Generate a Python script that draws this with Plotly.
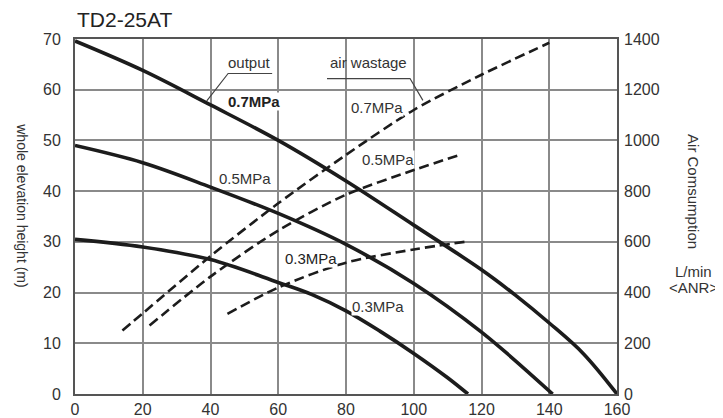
import plotly.graph_objects as go

# Output (whole elevation height, m) vs flow
out07_x = [0, 20, 40, 60, 80, 100, 120, 130, 140, 150, 160]
out07_y = [69.6, 63.8, 57.0, 50.0, 42.0, 33.3, 24.5, 19.5, 14.0, 8.0, 0]
out05_x = [0, 20, 40, 60, 80, 100, 120, 141]
out05_y = [49.0, 45.6, 40.8, 35.6, 29.5, 21.8, 12.2, 0]
out03_x = [0, 20, 40, 60, 70, 80, 90, 100, 110, 116]
out03_y = [30.5, 29.0, 26.5, 22.0, 19.6, 16.4, 12.4, 8.0, 3.2, 0]

# Air wastage (L/min ANR)
air07_x = [14, 20, 40, 60, 80, 100, 120, 140]
air07_y = [250, 318, 544, 752, 943, 1120, 1259, 1385]
air05_x = [22, 40, 60, 80, 100, 114]
air05_y = [270, 463, 645, 786, 883, 945]
air03_x = [45, 60, 80, 100, 116]
air03_y = [316, 420, 518, 570, 602]

x_ticks = [0, 20, 40, 60, 80, 100, 120, 140, 160]
y_ticks = [0, 10, 20, 30, 40, 50, 60, 70]
y2_ticks = [0, 200, 400, 600, 800, 1000, 1200, 1400]

FONT = "Liberation Sans, Arial, sans-serif"
INK = "#1c1c1c"
TXT = "#333333"

fig = go.Figure()
for xs, ys in [(out07_x, out07_y), (out05_x, out05_y), (out03_x, out03_y)]:
    fig.add_trace(go.Scatter(x=xs, y=ys, mode="lines",
                             line=dict(color=INK, width=3.6, shape="spline", smoothing=1.0),
                             showlegend=False, hoverinfo="skip"))
for xs, ys in [(air07_x, air07_y), (air05_x, air05_y), (air03_x, air03_y)]:
    fig.add_trace(go.Scatter(x=xs, y=ys, mode="lines", yaxis="y2",
                             line=dict(color=INK, width=2.6, dash="10px,5px", shape="spline", smoothing=0.8),
                             showlegend=False, hoverinfo="skip"))

grid = "#8a8a8a"
fig.update_layout(
    width=715, height=410,
    margin=dict(l=67, r=106, t=31, b=24),
    paper_bgcolor="white", plot_bgcolor="white",
    font=dict(family=FONT, size=14, color=TXT),
    xaxis=dict(range=[0, 160], tickvals=x_ticks, showgrid=True, gridcolor=grid, gridwidth=1.5,
               showline=True, linecolor="#555", linewidth=2, mirror=True, zeroline=False,
               ticks="", automargin=False, tickfont=dict(size=16, color=TXT)),
    yaxis=dict(range=[0, 70], tickvals=y_ticks, showgrid=True, gridcolor=grid, gridwidth=1.5,
               showline=True, linecolor="#555", linewidth=2, mirror=True, zeroline=False,
               ticks="", automargin=False, ticklabelstandoff=9, tickfont=dict(size=16, color=TXT)),
    yaxis2=dict(range=[0, 1400], tickvals=y2_ticks, overlaying="y", side="right",
                showgrid=False, zeroline=False, showline=False, ticks="", automargin=False,
                ticklabelstandoff=6, tickfont=dict(size=16, color=TXT)),
)

anns = [
    dict(text="TD2-25AT", xref="paper", yref="paper", x=0.0, y=1.056, xanchor="left", yanchor="middle",
         font=dict(size=21, color="#222")),
    dict(text="whole elevation height (m)", xref="paper", yref="paper", x=-0.098, y=0.532,
         textangle=90, font=dict(size=14, color=TXT)),
    dict(text="Air Comsumption", xref="paper", yref="paper", x=1.142, y=0.569,
         textangle=90, font=dict(size=15, color=TXT)),
    dict(text="L/min", xref="paper", yref="paper", x=1.142, y=0.346, font=dict(size=15, color=TXT)),
    dict(text="&lt;ANR&gt;", xref="paper", yref="paper", x=1.142, y=0.301, font=dict(size=15, color=TXT)),
    dict(text="output", x=51.5, y=65.4, font=dict(size=15, color=TXT)),
    dict(text="air wastage", x=86.5, y=65.4, font=dict(size=15, color=TXT)),
    dict(text="<b>0.7MPa</b>", x=52.8, y=57.6, font=dict(size=15, color="#222"), bgcolor="white", borderpad=0),
    dict(text="0.7MPa", x=89.2, y=56.4, font=dict(size=15, color=TXT), bgcolor="white", borderpad=0),
    dict(text="0.5MPa", x=50.2, y=42.4, font=dict(size=15, color=TXT), bgcolor="white", borderpad=0),
    dict(text="0.5MPa", x=92.4, y=46.3, font=dict(size=15, color=TXT), bgcolor="white", borderpad=0),
    dict(text="0.3MPa", x=69.7, y=26.8, font=dict(size=15, color="#222"), bgcolor="white", borderpad=0),
    dict(text="0.3MPa", x=89.4, y=17.3, font=dict(size=15, color=TXT), bgcolor="white", borderpad=0),
]
for a in anns:
    a.setdefault("showarrow", False)
    a.setdefault("xanchor", "center")
    a.setdefault("yanchor", "middle")
    fig.add_annotation(**a)

# leader lines
fig.add_shape(type="path", path="M 58.2,63.2 L 45.2,63.2 L 38.9,57.8", xref="x", yref="y",
              line=dict(color="#444", width=1.2))
fig.add_shape(type="path", path="M 74.4,62.2 L 98.9,62.2 L 102.7,57.9", xref="x", yref="y",
              line=dict(color="#444", width=1.2))

fig.write_html("out.html")
